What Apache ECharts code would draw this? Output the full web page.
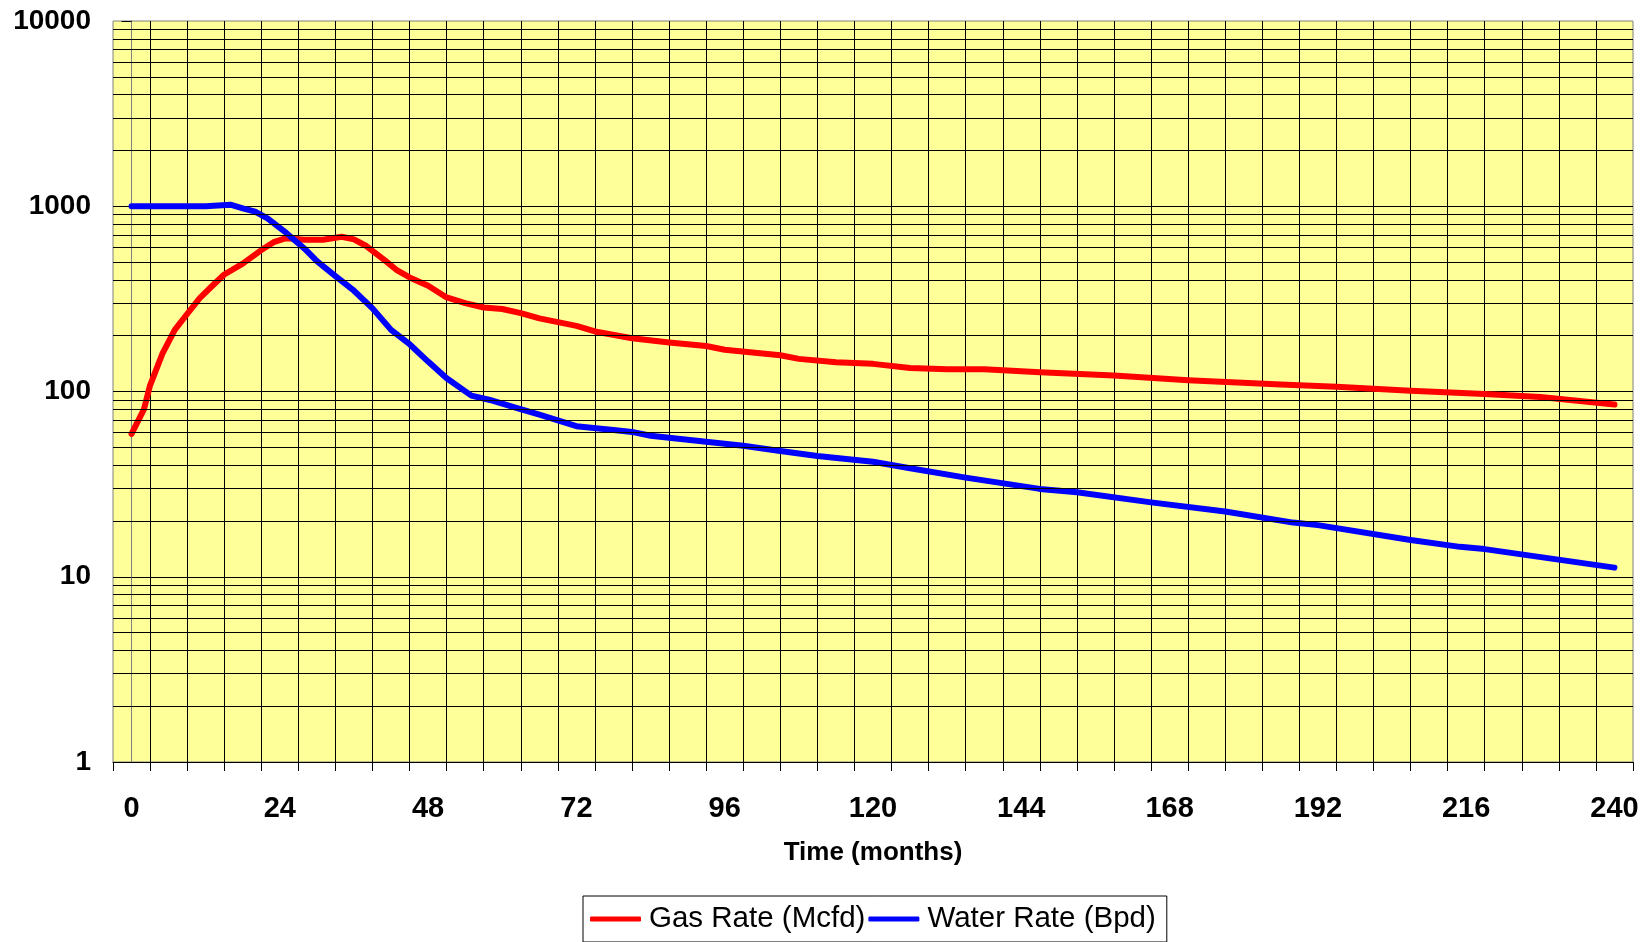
<!DOCTYPE html>
<html>
<head>
<meta charset="utf-8">
<script src="https://cdn.jsdelivr.net/npm/echarts@6/dist/echarts.min.js"></script>
<style>
html,body{margin:0;padding:0;background:#fff;}
#chart{width:1652px;height:942px;}
</style>
</head>
<body>
<div id="chart"></div>
<script>
const gasMonths = [0,2,3,5,7,9,11,13,15,18,21,23,25,28,31,34,36,38,41,43,45,48,51,54,57,60,63,66,72,75,81,87,93,96,105,108,114,120,126,132,138,147,159,171,186,195,207,219,228,240];
const gasRate = [59,80,108,160,215,262,318,370,428,490,580,640,672,660,660,684,662,610,510,450,413,372,322,300,284,279,265,248,226,211,194,184,176,168,157,150,144,141,134,132,132,127,122,115,109,106,101,97,93.5,85];
const waterMonths = [0,12,14,16,18,20,22,25,28,30,33,36,39,42,45,48,51,55,58,62,66,72,78,81,84,93,99,105,111,120,126,135,147,153,165,177,188,192,207,215,219,240];
const waterRate = [1000,1000,1010,1020,975,935,860,720,590,505,420,350,281,215,180,145,118,95,90,82,75,65,62,60.5,57.7,53.5,51,47.7,44.9,41.8,38.5,34.3,29.8,28.6,25.2,22.5,19.6,19.0,15.8,14.5,14.1,11.2];
const xTickLabels = [0,24,48,72,96,120,144,168,192,216,240];
const minorGridValues = [2,3,4,5,6,7,8,9,20,30,40,50,60,70,80,90,200,300,400,500,600,700,800,900,2000,3000,4000,5000,6000,7000,8000,9000];
const seriesNames = ['Gas Rate (Mcfd)', 'Water Rate (Bpd)'];

const FONT = '"Liberation Sans", Arial, sans-serif';
const chart = echarts.init(document.getElementById('chart'), null, {renderer: 'canvas'});
const pair = (xs, ys) => xs.map((x, i) => [x, ys[i]]);

chart.setOption({
  animation: false,
  backgroundColor: '#ffffff',
  grid: {
    left: 113, top: 21, right: 19, bottom: 180,
    show: true, backgroundColor: '#FFFF99', borderColor: '#808080', borderWidth: 1
  },
  xAxis: {
    type: 'value', min: -3, max: 243, interval: 6,
    axisLine: {show: true, onZero: false, lineStyle: {color: '#000', width: 1}},
    axisTick: {show: true, length: 9, lineStyle: {color: '#000', width: 1}},
    splitLine: {show: true, showMinLine: false, showMaxLine: false, lineStyle: {color: '#000', width: 1}},
    axisLabel: {
      customValues: xTickLabels, margin: 32,
      fontFamily: FONT, fontWeight: 'bold', fontSize: 29, color: '#000'
    },
    name: 'Time (months)', nameLocation: 'middle', nameGap: 78,
    nameTextStyle: {fontFamily: FONT, fontWeight: 'bold', fontSize: 26, color: '#000'}
  },
  yAxis: {
    type: 'log', logBase: 10, min: 1, max: 10000,
    axisLine: {show: true, lineStyle: {color: '#808080', width: 1}},
    axisTick: {show: true, length: 10, lineStyle: {color: '#000', width: 1}},
    splitLine: {show: true, showMaxLine: false, lineStyle: {color: '#000', width: 1}},
    axisLabel: {
      margin: 22, fontFamily: FONT, fontWeight: 'bold', fontSize: 28, color: '#000',
      formatter: v => String(Math.round(v))
    }
  },
  legend: {
    data: seriesNames,
    left: 583, top: 896,
    orient: 'horizontal',
    borderColor: '#000', borderWidth: 1, borderRadius: 0,
    padding: [8, 11, 8, 7],
    itemGap: 3, itemWidth: 51, itemHeight: 5,
    icon: 'roundRect',
    textStyle: {fontFamily: FONT, fontSize: 29.5, color: '#000', padding: [0, 0, 0, 3]}
  },
  series: [
    {
      name: 'minor', type: 'line', z: 1, silent: true,
      data: pair(gasMonths, gasRate), showSymbol: false,
      lineStyle: {opacity: 0}, tooltip: {show: false},
      markLine: {
        silent: true, symbol: ['none', 'none'], label: {show: false},
        lineStyle: {color: '#000', width: 1, type: 'solid'},
        emphasis: {disabled: true},
        data: minorGridValues.map(v => ({yAxis: v}))
      }
    },
    {
      name: seriesNames[0], type: 'line', z: 3, data: pair(gasMonths, gasRate),
      showSymbol: false, symbol: 'none', color: '#FF0000',
      lineStyle: {color: '#FF0000', width: 6, cap: 'round', join: 'round'}
    },
    {
      name: seriesNames[1], type: 'line', z: 3, data: pair(waterMonths, waterRate),
      showSymbol: false, symbol: 'none', color: '#0000FF',
      lineStyle: {color: '#0000FF', width: 6, cap: 'round', join: 'round'}
    }
  ]
});
</script>
</body>
</html>
